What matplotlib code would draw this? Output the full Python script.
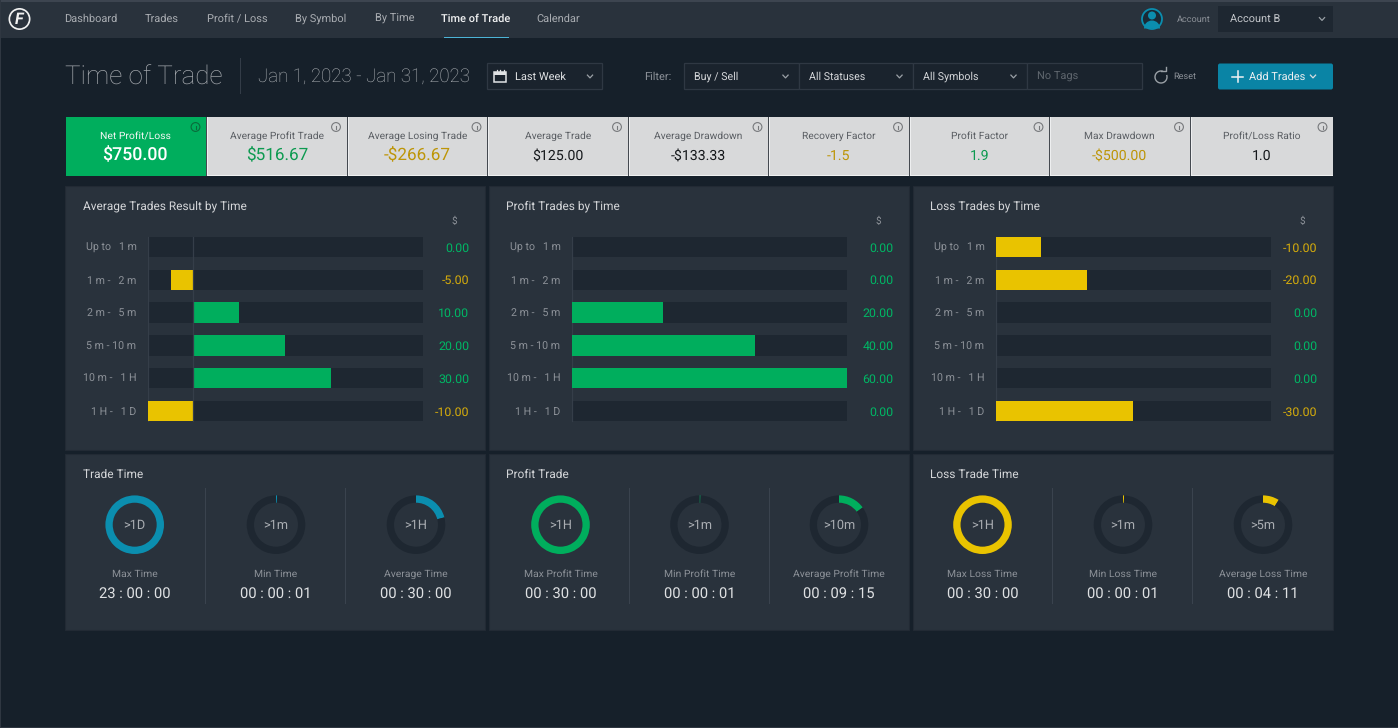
import matplotlib
matplotlib.use("Agg")
import matplotlib.pyplot as plt
from matplotlib.patches import Rectangle, Circle, Arc, Wedge, FancyBboxPatch

plt.rcParams['font.family'] = ['Roboto', 'DejaVu Sans']
plt.rcParams['text.hinting'] = 'no_hinting'

# ---- data ----
nav_items = ["Dashboard", "Trades", "Profit / Loss", "By Symbol", "By Time", "Time of Trade", "Calendar"]
card_titles = ["Net Profit/Loss", "Average Profit Trade", "Average Losing Trade", "Average Trade",
               "Average Drawdown", "Recovery Factor", "Profit Factor", "Max Drawdown", "Profit/Loss Ratio"]
card_values = ["$750.00", "$516.67", "-$266.67", "$125.00", "-$133.33", "-1.5", "1.9", "-$500.00", "1.0"]
card_tones = ["w", "g", "y", "k", "k", "y", "g", "y", "k"]

time_buckets = ["Up to   1 m", "1 m -   2 m", "2 m -   5 m", "5 m - 10 m", "10 m -   1 H", "1 H -   1 D"]
avg_result = [0, -5, 10, 20, 30, -10]
profit_result = [0, 0, 20, 40, 60, 0]
loss_result = [-10, -20, 0, 0, 0, -30]
value_labels_avg = ["0.00", "-5.00", "10.00", "20.00", "30.00", "-10.00"]
value_labels_profit = ["0.00", "0.00", "20.00", "40.00", "60.00", "0.00"]
value_labels_loss = ["-10.00", "-20.00", "0.00", "0.00", "0.00", "-30.00"]

bar_titles = ["Average Trades Result by Time", "Profit Trades by Time", "Loss Trades by Time"]
ring_titles = ["Trade Time", "Profit Trade", "Loss Trade Time"]
ring_names = [["Max Time", "Min Time", "Average Time"],
              ["Max Profit Time", "Min Profit Time", "Average Profit Time"],
              ["Max Loss Time", "Min Loss Time", "Average Loss Time"]]
ring_centers = [[">1D", ">1m", ">1H"], [">1H", ">1m", ">10m"], [">1H", ">1m", ">5m"]]
ring_times = [["23 : 00 : 00", "00 : 00 : 01", "00 : 30 : 00"],
              ["00 : 30 : 00", "00 : 00 : 01", "00 : 09 : 15"],
              ["00 : 30 : 00", "00 : 00 : 01", "00 : 04 : 11"]]
ring_fracs = [[1.0, 0.006, 0.21], [1.0, 0.006, 0.15], [1.0, 0.006, 0.09]]

# ---- style ----
W, H = 1398, 728
BG = "#16202a"; NAV = "#29323c"; PANEL = "#29323c"; TRACK = "#1e2731"
GREEN = "#00ae5d"; YELLOW = "#e9c300"; TEAL = "#0b8eaf"; CARD = "#d8d9da"
TXT = "#a9adb2"; MUTED = "#8c9198"
VGREEN = "#00b765"; VYELLOW = "#d7ad0b"

fig = plt.figure(figsize=(W / 100, H / 100), dpi=100, facecolor=BG)
bg = fig.add_axes([0, 0, 1, 1])
bg.set_xlim(0, W); bg.set_ylim(H, 0); bg.axis("off")


def rect(x0, y0, x1, y1, fc, ec="none", lw=0, z=1):
    bg.add_patch(Rectangle((x0, y0), x1 - x0, y1 - y0, fc=fc, ec=ec, lw=lw, zorder=z))


def txt(x, y, s, size, color=TXT, ha="center", **kw):
    bg.text(x, y, s, fontsize=size, color=color, ha=ha, va="center", zorder=6, **kw)


def chevron(x, y, color="#9aa0a6"):
    bg.plot([x - 2.6, x, x + 2.6], [y - 1.4, y + 1.4, y - 1.4], color=color, lw=0.9, zorder=6)


# window frame and nav bar
rect(0, 0, W, 38, NAV)
rect(0, 0, W, 1.5, "#3d4550", z=2)
rect(0, 0, 1, H, "#2f3741", z=2)
rect(0, 727, W, H, "#2f3741", z=2)

# logo
bg.add_patch(Circle((19.5, 19), 11, fc="#f2f2f2", ec="none", zorder=3))
bg.add_patch(Circle((19.5, 19), 9.3, fc="#2b333d", ec="none", zorder=4))
txt(19.5, 19.3, "F", 11.5, "#f2f2f2", fontweight="bold", fontstyle="italic")

nav_x = [90.5, 162, 237, 320.5, 395, 476, 558.5]
for x, s in zip(nav_x, nav_items):
    active = s == "Time of Trade"
    txt(x, 19, s, 7.9, "#f0f1f2" if active else TXT, fontweight="medium" if active else "normal")
rect(443.5, 36.5, 509, 38, "#4cb4d6", z=3)

# account area
bg.add_patch(Circle((1152, 19), 10, fc="#1a2a36", ec=TEAL, lw=1.3, zorder=3))
bg.add_patch(Circle((1152, 15.5), 4, fc=TEAL, ec="none", zorder=4))
bg.add_patch(Wedge((1152, 28.5), 8, 180, 360, fc=TEAL, ec="none", zorder=4))
txt(1194, 19.5, "Account", 6.6, MUTED)
rect(1218, 6, 1333, 32, TRACK)
txt(1230, 19.3, "Account B", 7.9, "#c4c7cb", ha="left")
chevron(1322, 19)

# page header
txt(65, 77.5, "Time of Trade", 18.7, "#a8acb1", ha="left", fontweight="light")
rect(240, 58, 241, 94, "#333c47")
txt(258, 77.3, "Jan 1, 2023 - Jan 31, 2023", 13.45, "#b0b4b8", ha="left", fontweight="light")

rect(487, 63.2, 601.5, 89.2, "#1a232d", "#2f3843", 0.9)
bg.add_patch(Rectangle((494, 72), 12, 9.5, fc="none", ec="#e0e2e4", lw=1.1, zorder=6))
rect(494, 72, 506, 74.5, "#e0e2e4", z=6)
for tx in (496.5, 500, 503.5):
    bg.plot([tx, tx], [70.3, 72], color="#e0e2e4", lw=0.9, zorder=6)
txt(515, 76.7, "Last Week", 7.9, "#e0e2e4", ha="left")
chevron(590, 76.5)

txt(657.5, 76.7, "Filter:", 7.9, MUTED)
for x0, x1, s in [(683.5, 798.5, "Buy / Sell"), (798.5, 912.5, "All Statuses"), (912.5, 1026.5, "All Symbols")]:
    rect(x0, 63.2, x1, 89.2, "#1a232d", "#2f3843", 0.9)
    txt(x0 + 10.5, 76.7, s, 7.7, "#d5d7da", ha="left")
    chevron(x1 - 13, 76.5)
rect(1026.5, 63.2, 1141.5, 89.2, "#1a232d", "#2f3843", 0.9)
txt(1037, 76.7, "No Tags", 7.9, "#5f666e", ha="left")

bg.add_patch(Arc((1161, 77), 12, 12, theta1=-20, theta2=290, ec="#9aa0a6", lw=1.0, zorder=6))
bg.plot([1161, 1166, 1166], [70.5, 70.5, 66.5], color="#9aa0a6", lw=1.0, zorder=6)
txt(1185, 76.7, "Reset", 6.6, MUTED)

bg.add_patch(FancyBboxPatch((1218, 63.5), 115, 26, boxstyle="round,pad=0,rounding_size=2",
                            fc="#0a84a5", ec="none", zorder=3))
bg.plot([1237.5, 1237.5], [71, 82], color="#f0f2f4", lw=1.1, zorder=6)
bg.plot([1232, 1243], [76.5, 76.5], color="#f0f2f4", lw=1.1, zorder=6)
txt(1249, 76.7, "Add Trades", 7.9, "#eef0f2", ha="left")
chevron(1313, 76.5, "#d8dde0")

# KPI cards
edges = [(65.5, 206), (207, 346.5), (347.5, 487), (488, 627.5), (628.5, 768), (769, 908.5), (909.5, 1049), (1050, 1189.5), (1190.5, 1333)]
tone = {"w": "#ffffff", "g": "#0d9a50", "y": "#bd9507", "k": "#15181b"}
rect(65.5, 117, 1333, 176, "#454a50")
for i, ((x0, x1), t, v, c) in enumerate(zip(edges, card_titles, card_values, card_tones)):
    rect(x0, 117, x1, 175.5, GREEN if i == 0 else CARD, z=2)
    if i:
        rect(x0, 117, x0 + 1, 176, "#eeeff0", z=3)
        rect(x0, 175, x1, 176, "#f0f1f1", z=3)
    cx = (x0 + x1) / 2 - (0 if i else 0.5)
    big = i < 3
    txt(cx, 136.5, t, 7.5 if i == 0 else 7.4, "#f3f6f4" if i == 0 else "#5a5e63")
    txt(cx, 155 if big else 156, v, (12.8 if i == 0 else 12.3) if big else 10.2, tone[c],
        fontweight="medium" if i == 0 else "normal")
    ix = x1 - 10.5
    ic = "#0a6b3b" if i == 0 else "#77797c"
    bg.add_patch(Circle((ix, 127), 4.4, fc="none", ec=ic, lw=0.8, zorder=6))
    bg.plot([ix, ix], [125.6, 129.4], color=ic, lw=0.8, zorder=6)

# panels
cols = [(65, 485.3), (489, 909.3), (912.5, 1332.7)]
for x0, x1 in cols:
    rect(x0, 186, x1, 450, PANEL, "#222a34", 0.8)
    rect(x0, 454, x1, 630, PANEL, "#222a34", 0.8)

# bar charts
bar_sets = [
    (avg_result, value_labels_avg, 147.6, 422.8, (-10, 50)),
    (profit_result, value_labels_profit, 571.6, 846.8, (0, 60)),
    (loss_result, value_labels_loss, 995.6, 1270.8, (0, -60)),
]
title_x = [83, 506.5, 930]
STEP = 32.8
for k, (vals, labels, x0, x1, lim) in enumerate(bar_sets):
    txt(title_x[k], 206.5, bar_titles[k], 8.6, "#d4d6d9", ha="left")
    txt(x1 + 31, 221, "$", 7.2, MUTED)
    y0 = 247 - STEP / 2
    y1 = 411 + STEP / 2
    ax = fig.add_axes([x0 / W, 1 - y1 / H, (x1 - x0) / W, (y1 - y0) / H])
    ax.patch.set_alpha(0)
    ax.set_xlim(*lim)
    ax.set_ylim(5.5, -0.5)
    for s in ax.spines.values():
        s.set_visible(False)
    pos = list(range(len(vals)))
    for p in pos:
        ax.axhspan(p - 0.31, p + 0.31, fc=TRACK, ec="none", zorder=1)
    colors = [GREEN if v > 0 else YELLOW for v in vals]
    ax.barh(pos, vals, height=0.62, color=colors, zorder=3)
    ax.axvline(lim[0], color="#353e49", lw=0.9, ymin=0.03, ymax=0.97, zorder=2)
    if lim[0] < 0:
        ax.axvline(0, color="#353e49", lw=0.9, ymin=0.03, ymax=0.97, zorder=4)
    ax.set_xticks([])
    ax.set_yticks(pos)
    ax.set_yticklabels(time_buckets, fontsize=7.7, color=MUTED)
    ax.tick_params(axis="y", length=0, pad=8)
    for p, lab in zip(pos, labels):
        ax.annotate(lab, xy=(1, p), xycoords=ax.get_yaxis_transform(), xytext=(33.5, -0.9),
                    textcoords="offset points", ha="right", va="center", fontsize=8.9,
                    color=VYELLOW if lab.startswith("-") else VGREEN, zorder=6)

# ring gauges
ring_x = [[134.7, 276, 416], [560.5, 699.5, 839], [982.5, 1123, 1263]]
sep_x = [[205, 345], [629, 769], [1052, 1192]]
ring_col = [TEAL, GREEN, YELLOW]
R = 29.3
for k in range(3):
    txt(title_x[k], 474.5, ring_titles[k], 8.6, "#d4d6d9", ha="left")
    for s in sep_x[k]:
        rect(s, 488, s + 1, 604, "#3a434e", z=2)
    for j in range(3):
        cx = ring_x[k][j]
        ax = fig.add_axes([(cx - R) / W, 1 - (524.7 + R) / H, 2 * R / W, 2 * R / H])
        f = ring_fracs[k][j]
        ax.pie([f, 1 - f], colors=[ring_col[k], TRACK], startangle=90, counterclock=False, radius=1,
               wedgeprops=dict(width=0.25, edgecolor="none"))
        ax.set_xlim(-1, 1); ax.set_ylim(-1, 1)
        ax.patch.set_alpha(0)
        txt(cx, 525.3, ring_centers[k][j], 9.2, "#a9adb2")
        txt(cx, 574.3, ring_names[k][j], 7.45, MUTED)
        txt(cx, 593.3, ring_times[k][j], 10.6, "#dfe1e3")

fig.savefig("out.png", dpi=100, facecolor=BG)
